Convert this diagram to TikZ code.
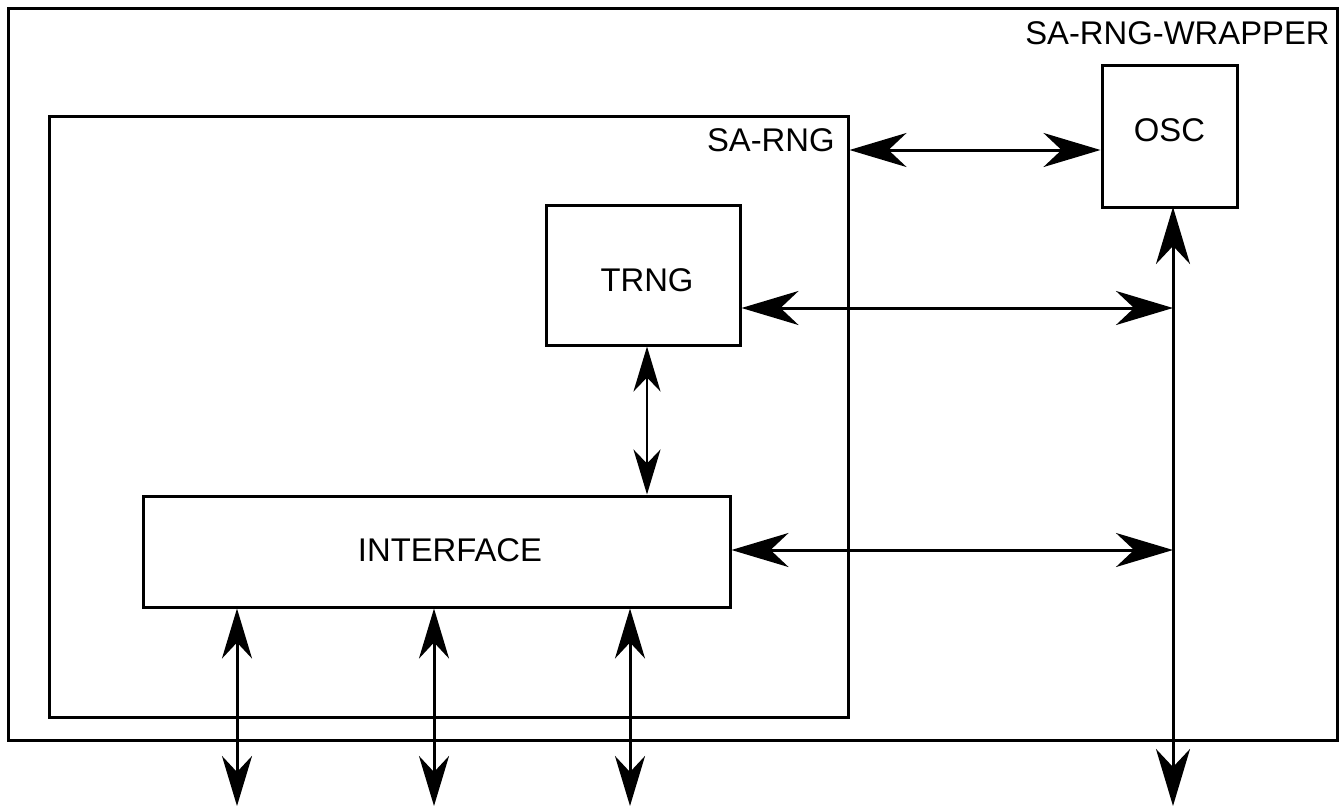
\documentclass[tikz,border=0pt]{standalone}
\usepackage{fontspec}
\setmainfont{Liberation Sans}
\usetikzlibrary{arrows.meta,calc}
\begin{document}
\begin{tikzpicture}[x=0.5pt,y=-0.5pt,
  box/.style={draw=black,line width=1.5pt,rectangle,inner sep=0pt,font=\fontsize{16.4}{19}\selectfont},
  lbl/.style={inner sep=0pt,font=\fontsize{16.4}{19}\selectfont},
  big/.style={line width=1.5pt,{Stealth[length=28.5pt,width=17pt,inset=9pt]}-{Stealth[length=28.5pt,width=17pt,inset=9pt]}},
  mid/.style={line width=1.5pt,{Stealth[length=25pt,width=15pt,inset=8pt]}-{Stealth[length=25pt,width=15pt,inset=8pt]}},
  small/.style={line width=1.2pt,{Stealth[length=22.5pt,width=13.5pt,inset=7pt]}-{Stealth[length=22.5pt,width=13.5pt,inset=7pt]}}
]
\useasboundingbox (0,0) rectangle (1340,809);
\node[box,minimum width=664.5pt,minimum height=366pt] (WRAP) at (672.5,374) {};
\node[lbl,anchor=east] (wraplbl) at (1330,33) {SA-RNG-WRAPPER};
\node[box,minimum width=399.5pt,minimum height=300.5pt] (SARNG) at (448.5,416.5) {};
\node[lbl,anchor=east] (sarnglbl) at (835,140) {SA-RNG};
\node[box,minimum width=67.5pt,minimum height=71pt] (OSC) at (1169.5,136) {};
\node[lbl] (osclbl) at (1169.5,130) {OSC};
\node[box,minimum width=97pt,minimum height=70pt] (TRNG) at (643,275) {};
\node[lbl] (trnglbl) at (647,280) {TRNG};
\node[box,minimum width=293.5pt,minimum height=55.5pt] (IF) at (436.5,551.5) {};
\node[lbl] (iflbl) at (450,550) {INTERFACE};
% coordinates
\coordinate (yOsc) at (0,150);
\coordinate (busTop) at (1173,207);
\coordinate (bus1) at (1173,308);
\coordinate (bus2) at (1173,550);
\coordinate (busBot) at (1173,806);
\coordinate (tx) at (647,0);
\coordinate (b1) at (237,806);
\coordinate (b2) at (434,806);
\coordinate (b3) at (630,806);
% connectors
\draw[big] (SARNG.east |- yOsc) -- (OSC.west |- yOsc);
\draw[big] (busTop) -- (busBot);
\draw[big] (TRNG.east |- bus1) -- (bus1);
\draw[big] (IF.east |- bus2) -- (bus2);
\draw[small] (TRNG.south -| tx) -- (IF.north -| tx);
\draw[mid] (IF.south -| b1) -- (b1);
\draw[mid] (IF.south -| b2) -- (b2);
\draw[mid] (IF.south -| b3) -- (b3);
\end{tikzpicture}
\end{document}
